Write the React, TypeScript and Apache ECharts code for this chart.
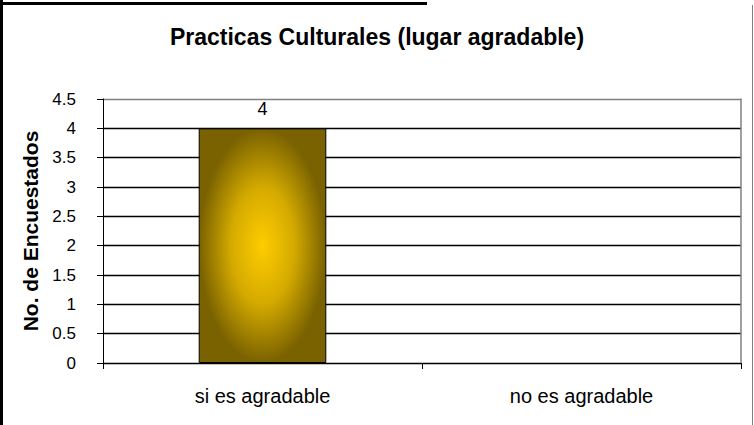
import React, { useEffect, useRef } from "react";
import * as echarts from "echarts";

const title = "Practicas Culturales (lugar agradable)";
const categories = ["si es agradable", "no es agradable"];
const values = [4, 0];
const yAxisName = "No. de Encuestados";

export default function App() {
  const ref = useRef<HTMLDivElement>(null);
  useEffect(() => {
    document.body.style.margin = "0";
    const chart = echarts.init(ref.current!, null, { renderer: "svg" });
    const font = "'Liberation Sans', Arial, sans-serif";
    const gridColors = ["#000", "#000", "#000", "#000", "#000", "#000", "#000", "#000", "#000", "#808080"];
    chart.setOption({
      animation: false,
      backgroundColor: "#fff",
      textStyle: { fontFamily: font },
      title: {
        text: title,
        left: "center",
        top: 20,
        textStyle: { fontFamily: font, fontSize: 23, fontWeight: "bold", color: "#000" },
      },
      grid: { left: 103, right: 13, top: 99, bottom: 62, containLabel: false },
      xAxis: {
        type: "category",
        data: categories,
        axisLine: { lineStyle: { color: "#000", width: 1 } },
        axisTick: { show: true, alignWithLabel: false, length: 6, lineStyle: { color: "#000" } },
        axisLabel: { fontFamily: font, fontSize: 20, color: "#000", margin: 23 },
      },
      yAxis: [
        {
          type: "value",
          min: 0,
          max: 4.5,
          interval: 0.5,
          name: yAxisName,
          nameLocation: "middle",
          nameGap: 58,
          nameTextStyle: { fontFamily: font, fontSize: 21, fontWeight: "bold", color: "#000" },
          axisLine: { show: true, lineStyle: { color: "#000", width: 1 } },
          axisTick: { show: true, length: 6, lineStyle: { color: "#000" } },
          axisLabel: { fontFamily: font, fontSize: 17, color: "#000", margin: 27 },
          splitLine: { show: true, lineStyle: { color: gridColors, width: 1.3 } },
        },
        {
          type: "value",
          position: "right",
          min: 0,
          max: 4.5,
          interval: 0.5,
          axisLine: { show: true, lineStyle: { color: "#808080", width: 1.5 } },
          axisTick: { show: false },
          axisLabel: { show: false },
          splitLine: { show: false },
        },
      ],
      series: [
        {
          type: "bar",
          data: values.map((v) => (v === 0 ? { value: v, itemStyle: { borderWidth: 0 } } : v)),
          barCategoryGap: "60%",
          itemStyle: {
            borderColor: "#000",
            borderWidth: 1,
            color: {
              type: "radial",
              x: 0.5,
              y: 0.5,
              r: 0.5,
              colorStops: [
                { offset: 0, color: "#FFCC00" },
                { offset: 0.5, color: "#D4AA00" },
                { offset: 1, color: "#7A6200" },
              ],
            },
          },
          label: {
            show: true,
            position: "top",
            distance: 10,
            fontFamily: font,
            fontSize: 18,
            color: "#000",
            formatter: (p: any) => (p.value > 0 ? String(p.value) : ""),
          },
        },
      ],
      graphic: [
        { type: "line", shape: { x1: 1.5, y1: 0, x2: 1.5, y2: 425 }, style: { stroke: "#000", lineWidth: 3 } },
        { type: "line", shape: { x1: 0, y1: 3.5, x2: 427, y2: 3.5 }, style: { stroke: "#000", lineWidth: 3 } },
        { type: "line", shape: { x1: 752.5, y1: 5, x2: 752.5, y2: 425 }, style: { stroke: "#808080", lineWidth: 1 } },
      ],
    });
    return () => chart.dispose();
  }, []);
  return <div ref={ref} style={{ width: 754, height: 425 }} />;
}
